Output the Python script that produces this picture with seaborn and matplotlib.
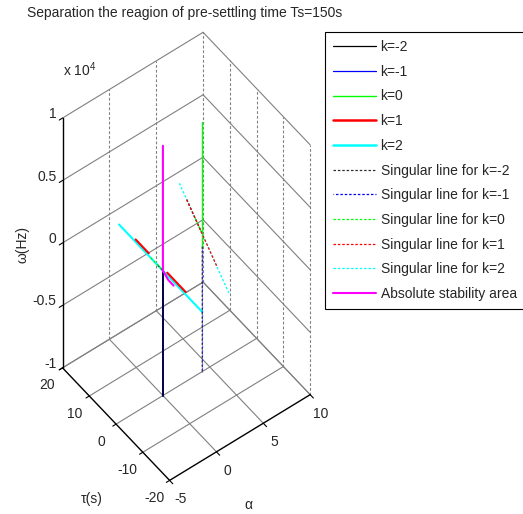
import itertools
import numpy as np
import seaborn as sns
import matplotlib
matplotlib.use("Agg")
import matplotlib.pyplot as plt
from matplotlib.patches import Rectangle
from mpl_toolkits.mplot3d import proj3d

# ---------------------------------------------------------------
# Data
# ---------------------------------------------------------------
alpha_lim = (-5, 10)
tau_lim = (-20, 20)
omega_lim = (-1e4, 1e4)

alpha_ticks = [-5, 0, 5, 10]
tau_ticks = [-20, -10, 0, 10, 20]
omega_ticks = [-1e4, -5e3, 0, 5e3, 1e4]
omega_ticklabels = ["-1", "-0.5", "0", "0.5", "1"]

nan = np.nan
# boundary curves for each k  (alpha, tau, omega)
k_m2_alpha = [0, 0]
k_m2_tau = [0, 0]
k_m2_omega = [-1e4, 0]

k_m1_alpha = [0, 0]
k_m1_tau = [0, 0]
k_m1_omega = [-1e4, 0]

k_0_alpha = [4.2, 4.2]
k_0_tau = [0, 0]
k_0_omega = [0, 1e4]

k_1_alpha = [0, 0, nan, 0, 0]
k_1_tau = [10.2, 5.3, nan, -1.6, -8.5]
k_1_omega = [200, 200, nan, 200, 200]

k_2_alpha = [0, 0]
k_2_tau = [16.4, -14.7]
k_2_omega = [0, 0]

# singular lines
s_m2_alpha = [4.2, 4.2, nan, 6.17, 5.06, nan, 0, 0]
s_m2_tau = [0, 0, nan, 12.7, 3.3, nan, 2.0, 0]
s_m2_omega = [-1e4, 0, nan, 0, 0, nan, 0, 0]

s_m1_alpha = [4.2, 4.2]
s_m1_tau = [0, 0]
s_m1_omega = [-1e4, 0]

s_0_alpha = [0, 0, nan, 5.54, 5.02]
s_0_tau = [4.6, 0.1, nan, 7.4, 2.9]
s_0_omega = [0, 0, nan, 0, 0]

s_1_alpha = [6.17, 3.91]
s_1_tau = [12.7, -6.5]
s_1_omega = [0, 0]

s_2_alpha = [6.73, 3.02]
s_2_tau = [17.4, -14.0]
s_2_omega = [0, 0]

# absolute stability area
abs_alpha = [0, 0, 0, 0]
abs_tau = [0, 0, -2.0, -4.0]
abs_omega = [1e4, 0, -300, -300]

# ---------------------------------------------------------------
# Style
# ---------------------------------------------------------------
sns.set_style("white")
plt.rcParams["font.family"] = ["Liberation Sans", "DejaVu Sans"]
plt.rcParams["mathtext.fontset"] = "custom"
plt.rcParams["mathtext.rm"] = "Liberation Sans"
plt.rcParams["mathtext.it"] = "Liberation Sans:italic"
plt.rcParams["font.size"] = 10

W, H = 523, 514
fig = plt.figure(figsize=(W / 100, H / 100), dpi=100)
ax = fig.add_axes([0.1, 0.1, 0.8, 0.8], projection="3d",
                  proj_type="ortho", computed_zorder=False)
ax.set_box_aspect((1, 1, 2.36))
ax.view_init(elev=53.2, azim=-127.3)
ax.set_xlim(*alpha_lim)
ax.set_ylim(*tau_lim)
ax.set_zlim(*omega_lim)
ax.set_axis_off()
ax.patch.set_alpha(0)

a0, a1 = alpha_lim
t0, t1 = tau_lim
w0, w1 = omega_lim
GRID = "#808080"
dash = (0, (2.5, 1.8))


def label3d(a, t, w, s, **kw):
    # text at a 3D point, drawn as plain 2D text at its projection
    x2, y2, _ = proj3d.proj_transform(a, t, w, ax.get_proj())
    ax.annotate(s, (x2, y2), xycoords="data", annotation_clip=False, **kw)


# floor grid
for a in alpha_ticks[1:]:
    ax.plot([a, a], [t0, t1], [w0, w0], color=GRID, lw=0.8)
for t in tau_ticks[1:]:
    ax.plot([a0, a1], [t, t], [w0, w0], color=GRID, lw=0.8)
# back walls: horizontal lines
for w in omega_ticks:
    ax.plot([a0, a1], [t1, t1], [w, w], color=GRID, lw=0.8)
    ax.plot([a1, a1], [t0, t1], [w, w], color=GRID, lw=0.8)
# back walls: vertical lines
for a in alpha_ticks[1:]:
    ax.plot([a, a], [t1, t1], [w0, w1], color=GRID, lw=0.8, ls=dash)
for t in tau_ticks[:-1]:
    ax.plot([a1, a1], [t, t], [w0, w1], color=GRID, lw=0.8, ls=dash)

# axis lines
ax.plot([a0, a1], [t0, t0], [w0, w0], color="black", lw=1.0)
ax.plot([a0, a0], [t0, t1], [w0, w0], color="black", lw=1.0)
ax.plot([a0, a0], [t1, t1], [w0, w1], color="black", lw=1.0)
# tick marks
for a in alpha_ticks:
    ax.plot([a, a], [t0, t0 - 1.2], [w0, w0], color="black", lw=0.8)
for t in tau_ticks:
    ax.plot([a0, a0 - 0.35], [t, t], [w0, w0], color="black", lw=0.8)
for w in omega_ticks:
    ax.plot([a0, a0 - 0.35], [t1, t1], [w, w], color="black", lw=0.8)

# tick labels
for a in alpha_ticks:
    label3d(a, t0 - 4.0, w0 - 620, str(a), ha="center", va="center")
for t in tau_ticks:
    label3d(a0 - 1.6, t, w0 - 675, str(t), ha="center", va="center")
for w, lab in zip(omega_ticks, omega_ticklabels):
    label3d(a0, t1 + 2.24, w - 185, lab, ha="right", va="center")
label3d(a0, t1, w1 + 3860, r"x 10$^{4}$", ha="left", va="center")

label3d(2.21, t0 - 4.0, w0 - 4350, "α", ha="center", va="center")
label3d(a0 - 1.6, 3.6, w0 - 6040, "τ(s)", ha="center", va="center")
label3d(a0, t1 + 14.95, -3530, "ω(Hz)", ha="center", va="center",
        rotation=90)

# ---------------------------------------------------------------
# Curves
# ---------------------------------------------------------------
dot = (0, (2.0, 1.5))
h_m2, = ax.plot(k_m2_alpha, k_m2_tau, k_m2_omega, color="black", lw=1.4)
h_m1, = ax.plot(k_m1_alpha, k_m1_tau, k_m1_omega, color="#0000ff", lw=1.4,
                alpha=0.3)
h_0, = ax.plot(k_0_alpha, k_0_tau, k_0_omega, color="#00ff00", lw=1.0)
h_2, = ax.plot(k_2_alpha, k_2_tau, k_2_omega, color="#00ffff", lw=1.5)
h_1, = ax.plot(k_1_alpha, k_1_tau, k_1_omega, color="#ff0000", lw=1.5)

hs_2, = ax.plot(s_2_alpha, s_2_tau, s_2_omega, color="#00ffff", lw=0.9, ls=dot)
hs_m2, = ax.plot(s_m2_alpha, s_m2_tau, s_m2_omega, color="#303030", lw=0.9, ls=dot)
hs_m1, = ax.plot(s_m1_alpha, s_m1_tau, s_m1_omega, color="#0000ff", lw=0.9,
                 ls=(1.5, (2.0, 1.5)), alpha=0.6)
hs_0, = ax.plot(s_0_alpha, s_0_tau, s_0_omega, color="#00ff00", lw=0.9, ls=dot)
hs_1, = ax.plot(s_1_alpha, s_1_tau, s_1_omega, color="#ff0000", lw=0.9, ls=dot)
h_abs, = ax.plot(abs_alpha, abs_tau, abs_omega, color="#ff00ff", lw=1.5)

handles = [h_m2, h_m1, h_0, h_1, h_2, hs_m2, hs_m1, hs_0, hs_1, hs_2, h_abs]
labels = ["k=-2", "k=-1", "k=0", "k=1", "k=2",
          "Singular line for k=-2", "Singular line for k=-1",
          "Singular line for k=0", "Singular line for k=1",
          "Singular line for k=2", "Absolute stability area"]

# ---------------------------------------------------------------
# Fit the projected box to its place in the figure
# ---------------------------------------------------------------
fig.canvas.draw()
corners = np.array(list(itertools.product(alpha_lim, tau_lim, omega_lim)), float)
px, py, _ = proj3d.proj_transform(corners[:, 0], corners[:, 1], corners[:, 2],
                                  ax.get_proj())
pts = ax.transData.transform(np.column_stack([px, py]))
bx0, by0 = pts.min(axis=0)
bx1, by1 = pts.max(axis=0)
pos = ax.get_position()
side = pos.width * W
ccx = (pos.x0 + pos.x1) / 2 * W
ccy = (pos.y0 + pos.y1) / 2 * H
tx0, tx1, ty0, ty1 = 62.7, 310.0, H - 480.7, H - 32.0
scale = 0.5 * ((tx1 - tx0) / (bx1 - bx0) + (ty1 - ty0) / (by1 - by0))
nside = side * scale
ncx = (tx0 + tx1) / 2 - ((bx0 + bx1) / 2 - ccx) * scale
ncy = (ty0 + ty1) / 2 - ((by0 + by1) / 2 - ccy) * scale
ax.set_position([(ncx - nside / 2) / W, (ncy - nside / 2) / H,
                 nside / W, nside / H])

fig.text(185 / W, 1 - 13 / H,
         "Separation the reagion of pre-settling time Ts=150s",
         ha="center", va="center", fontsize=10)

leg = fig.legend(handles, labels, loc="upper left",
                 bbox_to_anchor=(325 / W, 1 - 31.7 / H),
                 borderaxespad=0, fontsize=10, handlelength=3.1,
                 handletextpad=0.3, labelspacing=0.77, borderpad=0.6,
                 frameon=False)
for lh in leg.legend_handles:
    lh.set_alpha(1)
leg.legend_handles[0].set_linewidth(0.9)
leg.legend_handles[1].set_linewidth(0.9)
leg.legend_handles[3].set_linewidth(1.8)
leg.legend_handles[4].set_linewidth(1.8)

# legend box: it runs on past the right edge of the figure
fig.canvas.draw()
bb = leg.get_window_extent().transformed(fig.transFigure.inverted())
fig.add_artist(Rectangle((bb.x0, bb.y0), 1.2 - bb.x0, bb.height,
                         transform=fig.transFigure, facecolor="white",
                         edgecolor="black", linewidth=0.8, zorder=4))

fig.savefig("out.png", dpi=100)
